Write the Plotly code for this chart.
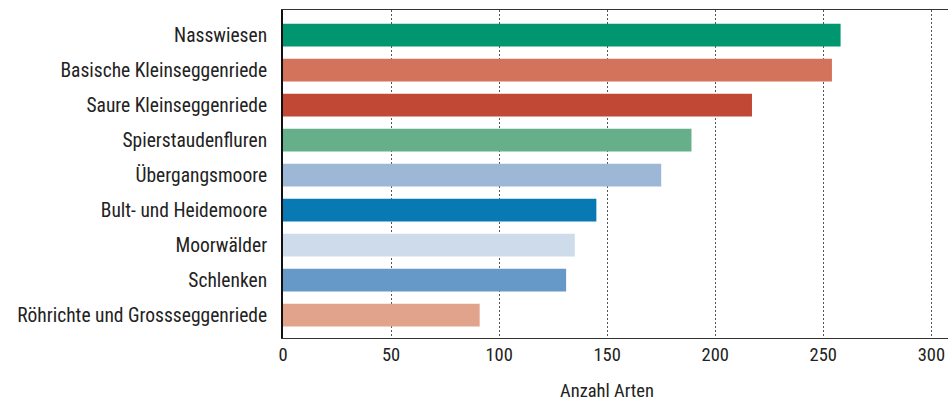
import plotly.graph_objects as go

categories = ["Röhrichte und Grossseggenriede", "Schlenken", "Moorwälder",
              "Bult- und Heidemoore", "Übergangsmoore", "Spierstaudenfluren",
              "Saure Kleinseggenriede", "Basische Kleinseggenriede", "Nasswiesen"]
values = [91, 131, 135, 145, 175, 189, 217, 254, 258]
colors = ["#E2A38D", "#6699C7", "#CDDBEA", "#0879B3", "#9CB8D6", "#65AF8B",
          "#C14835", "#D4735B", "#009670"]
x_ticks = [0, 50, 100, 150, 200, 250, 300]
x_title = "Anzahl Arten"

FONT = "Roboto Condensed, Arial Narrow, sans-serif"

fig = go.Figure(go.Bar(
    x=values, y=categories, orientation="h",
    marker=dict(color=colors, line=dict(width=0)),
    width=0.65,
))

fig.update_layout(
    width=948, height=401,
    margin=dict(l=283, r=0, t=10, b=63),
    paper_bgcolor="white", plot_bgcolor="white",
    font=dict(family=FONT, size=18.5, color="#222"),
    showlegend=False,
    xaxis=dict(
        range=[0, 307.7], tickvals=x_ticks, ticktext=[str(t) for t in x_ticks],
        showgrid=True, gridcolor="#555", gridwidth=1, griddash="2px,2px",
        showline=True, linecolor="#333", linewidth=1, mirror=True,
        zeroline=False, ticks="", automargin=False,
        tickfont=dict(family=FONT, size=18.5, color="#222"),
    ),
    yaxis=dict(
        range=[-0.65, 8.72], showgrid=False, zeroline=False,
        showline=True, linecolor="#111", linewidth=2,
        ticks="outside", ticklen=10, tickcolor="rgba(0,0,0,0)",
        automargin=False,
        tickfont=dict(family=FONT, size=19.5, color="#222"),
    ),
    annotations=[dict(
        text=x_title, xref="x", yref="paper", x=150, y=0,
        yshift=-53, showarrow=False, xanchor="center", yanchor="middle",
        font=dict(family=FONT, size=18.5, color="#222"),
    )],
)

fig.write_html(
    "out.html",
    config={"displayModeBar": False},
    post_script="document.body.style.margin='0';document.body.style.overflow='hidden';",
)
